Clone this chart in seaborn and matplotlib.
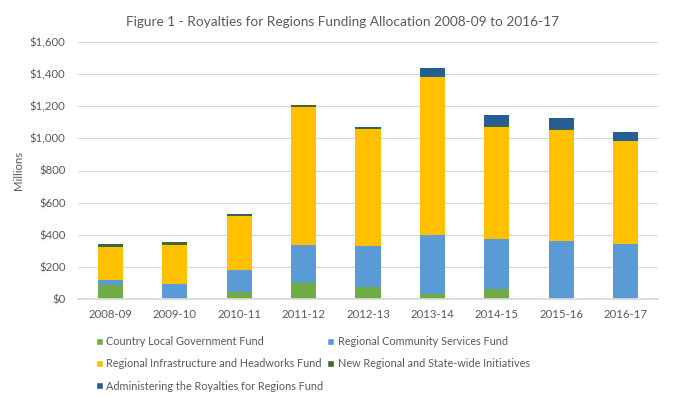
import pandas as pd
import seaborn as sns
import matplotlib.pyplot as plt
from matplotlib.patches import Patch

# values in $ millions
years = ["2008-09", "2009-10", "2010-11", "2011-12", "2012-13",
         "2013-14", "2014-15", "2015-16", "2016-17"]
country_local_govt = [88, 3, 45, 98, 77, 29, 60, 3, 3]
regional_community = [31, 91, 136, 239, 250, 371, 315, 359, 341]
regional_infra = [204, 243, 333, 859, 729, 983, 696, 690, 637]
new_regional = [15, 17, 11, 10, 10, 2, 8, 8, 5]
administering = [2, 2, 2, 2, 2, 52, 65, 65, 51]

series_names = ["Country Local Government Fund",
                "Regional Community Services Fund",
                "Regional Infrastructure and Headworks Fund",
                "New Regional and State-wide Initiatives",
                "Administering the Royalties for Regions Fund"]
series_colors = ["#70AD47", "#5B9BD5", "#FFC000", "#43682B", "#255E91"]

df = pd.DataFrame({
    "year": years,
    series_names[0]: country_local_govt,
    series_names[1]: regional_community,
    series_names[2]: regional_infra,
    series_names[3]: new_regional,
    series_names[4]: administering,
})

sns.set_theme(style="white")
plt.rcParams["font.family"] = ["Lato", "DejaVu Sans"]
grey = "#595959"

fig = plt.figure(figsize=(6.85, 3.97), dpi=100)
ax = fig.add_axes([78 / 685, 98 / 397, 580 / 685, 257 / 397])

# stacked bars, one seaborn call per fund
bottom = pd.Series([0.0] * len(years))
for name, color in zip(series_names, series_colors):
    sns.barplot(x=df["year"], y=df[name], color=color, width=0.39,
                bottom=bottom, ax=ax, saturation=1, linewidth=0)
    bottom = bottom + df[name]

ax.set_ylim(0, 1600)
ax.set_xlim(-0.5, len(years) - 0.5)
ax.set_yticks(range(0, 1601, 200))
ax.set_yticklabels([f"${v:,}" for v in range(0, 1601, 200)])
ax.yaxis.grid(True, color="#D9D9D9", linewidth=0.9)
ax.set_axisbelow(True)
for s in ["top", "right", "left"]:
    ax.spines[s].set_visible(False)
ax.spines["bottom"].set_color("#D9D9D9")
ax.tick_params(axis="both", length=0, labelsize=8.2, colors=grey)
ax.tick_params(axis="y", pad=9)
ax.tick_params(axis="x", pad=7)
ax.set_xlabel("")
ax.set_ylabel("Millions", fontsize=8.2, color=grey, labelpad=4)

fig.text(0.5, 0.945, "Figure 1 - Royalties for Regions Funding Allocation 2008-09 to 2016-17",
         ha="center", va="center", fontsize=9.8, color=grey)

# legend: two columns, row-major order like Excel
order = [0, 2, 4, 1, 3]
handles = [Patch(facecolor=series_colors[i], label=series_names[i]) for i in order]
fig.legend(handles=handles, loc="upper left", bbox_to_anchor=(96 / 685, 1 - 336 / 397),
           ncol=2, frameon=False, fontsize=7.8, labelcolor=grey,
           handlelength=0.6, handleheight=0.6, handletextpad=0.35,
           columnspacing=0.35, labelspacing=1.05, borderaxespad=0, borderpad=0)

fig.savefig("out.png", dpi=100)
